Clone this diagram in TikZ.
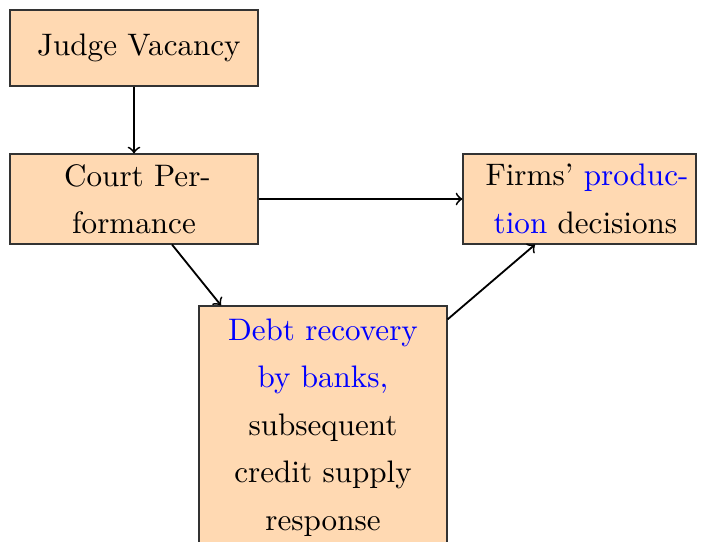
\documentclass[tikz,border=0pt]{standalone}
\usetikzlibrary{calc}
\definecolor{peach}{RGB}{255,217,178}
\begin{document}
\begin{tikzpicture}[x=0.328pt,y=-0.328pt,
  box/.style={draw=black!80, line width=0.4pt, fill=peach, align=center, inner sep=0pt,
    font=\fontsize{10.2}{15.6}\selectfont},
  arr/.style={->, semithick}]
\useasboundingbox (0,0) rectangle (704,542);
\node[box, minimum width=81.3pt, minimum height=24.9pt] (judge) at (134,48) {\hspace*{3.2pt}Judge Vacancy};
\node[box, minimum width=81.3pt, minimum height=29.5pt] (court) at (134,199) {\hspace*{2.3pt}Court Per-\\formance};
\node[box, minimum width=76.4pt, minimum height=29.5pt] (firms) at (579.5,199)
  {\hspace*{4.9pt}Firms' \textcolor{blue}{produc-}\\\hspace*{3.9pt}\textcolor{blue}{tion} decisions};
\node[box, minimum width=81.3pt, minimum height=79.7pt] (debt) at (323,427.5)
  {\textcolor{blue}{Debt recovery}\\\textcolor{blue}{by banks,}\\subsequent\\credit supply\\response};
\draw[arr] (judge) -- (court);
\draw[arr] (court) -- (firms);
\draw[arr] ($(court.south)+(38,0)$) -- ($(debt.north)+(-102,0)$);
\draw[arr] ($(debt.north east)+(0,14)$) -- ($(firms.south)+(-44.5,0)$);
\end{tikzpicture}
\end{document}
